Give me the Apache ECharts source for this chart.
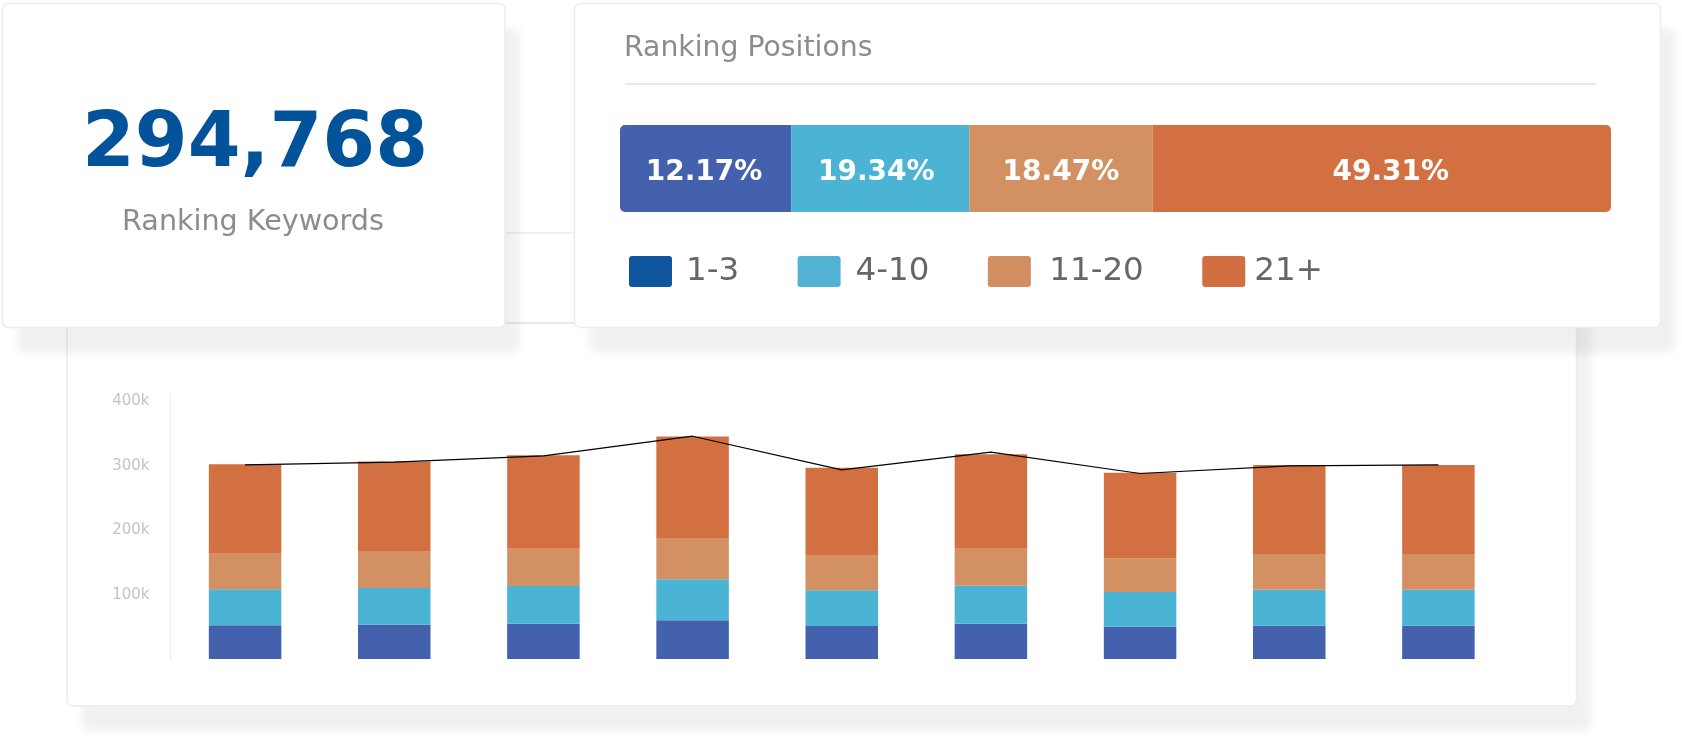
<!DOCTYPE html>
<html><head><meta charset="utf-8">
<style>html,body{margin:0;padding:0;background:#fff}#c{width:1682px;height:738px}</style>
<script src="https://cdn.jsdelivr.net/npm/echarts@6/dist/echarts.min.js"></script>
</head><body><div id="c"></div>
<script>
const FONT = '"DejaVu Sans"';
// top panel
const totalKeywords = '294,768';
const keywordsCaption = 'Ranking Keywords';
const positionsTitle = 'Ranking Positions';
const bucketNames = ['1-3', '4-10', '11-20', '21+'];
const positionLabels = ['12.17%', '19.34%', '18.47%', '49.31%'];
const positionBarShares = [17.27, 17.98, 18.48, 46.27];
// stacked columns, thousands
const months = ['1', '2', '3', '4', '5', '6', '7', '8', '9'];
const rank1to3 = [51.8, 52.8, 54.4, 59.5, 50.8, 54.4, 49.7, 51.3, 51.3];
const rank4to10 = [55.4, 56.4, 57.9, 63.1, 54.9, 58.5, 53.3, 55.4, 55.4];
const rank11to20 = [54.9, 55.9, 57.4, 62.6, 53.3, 57.9, 52.3, 54.9, 54.9];
const rank21plus = [137.9, 139.0, 144.1, 157.4, 135.4, 144.6, 131.3, 136.9, 136.9];
const totalLine = [299, 303, 312.8, 343, 291.3, 318.5, 285.6, 297.4, 299];
const yTickLabels = { 100: '100k', 200: '200k', 300: '300k', 400: '400k' };

const barColors = ['#4361ad', '#4bb3d3', '#d39062', '#d27041'];
const legendColors = ['#10569f', '#53b2d4', '#d28d60', '#d26f42'];
const labelOffsets = [[-1.5, 4], [-4, 4], [0, 4], [9, 4]];
const legendTextLeft = [9, 10, 13.5, 4];
const columnSeries = [rank1to3, rank4to10, rank11to20, rank21plus];
const swatchIcon = 'path://M3,0H40Q43,0 43,3V28Q43,31 40,31H3Q0,31 0,28V3Q0,0 3,0Z';

function card(x, y, w, h, z) {
  const shape = { x, y, width: w, height: h, r: 6 };
  return [
    { type: 'rect', z, silent: true, shape,
      style: { fill: '#fff', shadowColor: 'rgba(0,0,0,0.06)', shadowBlur: 9, shadowOffsetX: 15, shadowOffsetY: 25 } },
    { type: 'rect', z, silent: true, shape,
      style: { fill: 'none', stroke: '#ececec', lineWidth: 1.5 } }
  ];
}
function rule(x1, y, x2, z) {
  return {
    type: 'line', z, silent: true,
    shape: { x1, y1: y, x2, y2: y },
    style: { stroke: '#e9e9e9', lineWidth: 2 }
  };
}

const chart = echarts.init(document.getElementById('c'), null, { renderer: 'canvas', width: 1682, height: 738 });
chart.setOption({
  animation: false,
  backgroundColor: '#fff',
  textStyle: { fontFamily: FONT },
  title: [
    { text: totalKeywords, left: 250, top: 103, textAlign: 'center',
      textStyle: { fontFamily: FONT, fontSize: 76, fontWeight: 'bold', color: '#03539b' } },
    { text: keywordsCaption, left: 248, top: 203, textAlign: 'center',
      textStyle: { fontFamily: FONT, fontSize: 28.6, fontWeight: 'normal', color: '#8c8c8c' } },
    { text: positionsTitle, left: 624, top: 35,
      padding: 0,
      textStyle: { fontFamily: FONT, fontSize: 28.3, fontWeight: 'normal', color: '#8c8c8c' } }
  ],
  graphic: [
    ...card(67, 233, 1509.5, 473, 0),
    rule(67, 323, 1575, 0),
    ...card(2.5, 3.5, 502.5, 324, 1),
    ...card(574.5, 3.5, 1086, 324, 1),
    rule(625, 84, 1596, 1)
  ],
  legend: {
    left: 629, top: 255, itemWidth: 43, itemHeight: 31, itemGap: 58.5, padding: 0,
    selectedMode: false,
    data: bucketNames.map((name, i) => ({
      name, icon: swatchIcon,
      itemStyle: { color: legendColors[i] },
      textStyle: { fontFamily: FONT, fontSize: 32.5, color: '#666', padding: [4, 0, 0, legendTextLeft[i]] }
    }))
  },
  grid: [
    { left: 170.5, top: 394, width: 1342.5, height: 265, containLabel: false },
    { left: 620, top: 125, width: 991, height: 87, containLabel: false }
  ],
  xAxis: [
    { type: 'category', gridIndex: 0, data: months, axisLine: { show: false }, axisTick: { show: false }, axisLabel: { show: false } },
    { type: 'value', gridIndex: 1, min: 0, max: 100, show: false }
  ],
  yAxis: [
    { type: 'value', gridIndex: 0, min: 0, max: 408, interval: 100,
      axisLine: { show: true, lineStyle: { color: '#ececec', width: 1 } },
      axisTick: { show: false }, splitLine: { show: false },
      axisLabel: { margin: 21, fontFamily: FONT, fontSize: 15, color: '#c4c4c4',
        showMinLabel: false, showMaxLabel: false,
        rich: { t: { padding: [3, 0, 0, 0], fontFamily: FONT, fontSize: 15, color: '#c4c4c4' } },
        formatter: v => yTickLabels[v] ? '{t|' + yTickLabels[v] + '}' : '' } },
    { type: 'category', gridIndex: 1, data: ['share'], show: false }
  ],
  series: [
    ...bucketNames.map((name, i) => ({
      name, type: 'bar', stack: 'share', xAxisIndex: 1, yAxisIndex: 1, barWidth: 87,
      data: [positionBarShares[i]],
      itemStyle: { color: barColors[i],
        borderRadius: i === 0 ? [5, 0, 0, 5] : i === 3 ? [0, 5, 5, 0] : 0 },
      label: { show: true, position: 'inside', offset: labelOffsets[i],
        formatter: () => positionLabels[i],
        fontFamily: FONT, fontSize: 28, fontWeight: 'bold', color: '#fff' }
    })),
    ...bucketNames.map((name, i) => ({
      name: name + ' columns', type: 'bar', stack: 'columns', xAxisIndex: 0, yAxisIndex: 0, barWidth: 72.5,
      data: columnSeries[i], itemStyle: { color: barColors[i] }
    })),
    { name: 'Total', type: 'line', xAxisIndex: 0, yAxisIndex: 0, z: 4, data: totalLine,
      symbol: 'none', lineStyle: { color: '#000', width: 1.2 } }
  ]
});
</script></body></html>
